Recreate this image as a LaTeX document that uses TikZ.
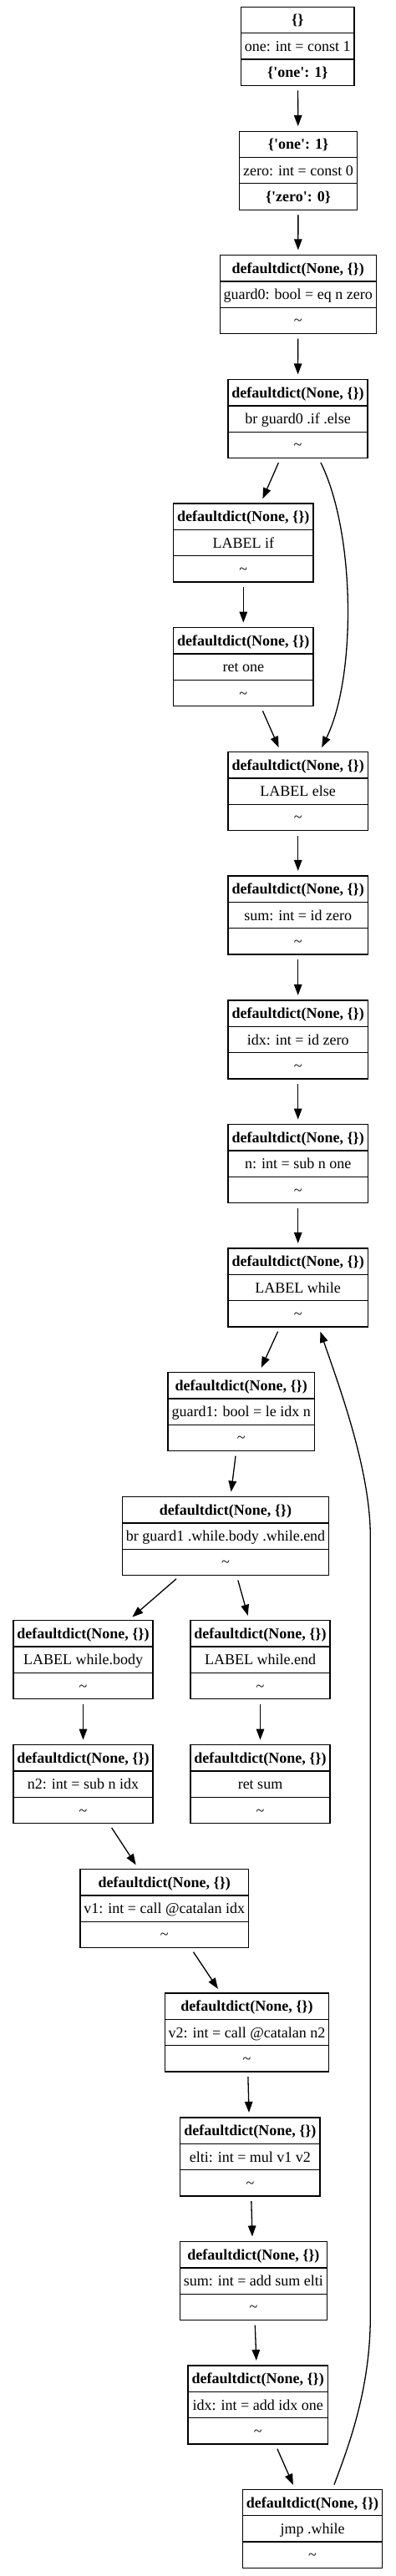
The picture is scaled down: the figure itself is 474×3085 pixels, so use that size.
\documentclass[tikz,border=0pt]{standalone}
\usepackage{fontspec}
\setmainfont{Liberation Serif}
\usetikzlibrary{arrows.meta, shapes.multipart}
\newcommand{\rs}{\rule[-7bp]{0pt}{26bp}}
\newcommand{\hd}{\rs\textbf{defaultdict(None, \{\})}}
\tikzset{
  every picture/.style={line width=1.3bp},
  blk/.style={rectangle split, rectangle split parts=3, draw, inner xsep=4.5bp, inner ysep=2bp, font=\fontsize{18bp}{21bp}\selectfont},
  arrow/.style={-{Triangle[length=13bp, width=9.5bp]}, shorten <=5.5bp, shorten >=5.5bp},
}
\begin{document}
\begin{tikzpicture}[x=1bp, y=-1bp]
  \useasboundingbox (0,0) rectangle (474,3085);
  \node[blk] (c0) at (356.3,55.3) {\rs\textbf{\{\}}\nodepart{two}\rs one: int = const 1\nodepart{three}\rs\textbf{\{\textquotesingle one\textquotesingle: 1\}}};
  \node[blk] (c1) at (357,204.2) {\rs\textbf{\{\textquotesingle one\textquotesingle: 1\}}\nodepart{two}\rs zero: int = const 0\nodepart{three}\rs\textbf{\{\textquotesingle zero\textquotesingle: 0\}}};
  \node[blk] (g0) at (356.7,352.5) {\hd\nodepart{two}\rs guard0: bool = eq n zero\nodepart{three}\rs\textasciitilde};
  \node[blk] (br0) at (356.5,501.5) {\hd\nodepart{two}\rs br guard0 .if .else\nodepart{three}\rs\textasciitilde};
  \node[blk] (lif) at (291.3,650) {\hd\nodepart{two}\rs LABEL if\nodepart{three}\rs\textasciitilde};
  \node[blk] (rone) at (291.3,798.7) {\hd\nodepart{two}\rs ret one\nodepart{three}\rs\textasciitilde};
  \node[blk] (lelse) at (356.7,947.6) {\hd\nodepart{two}\rs LABEL else\nodepart{three}\rs\textasciitilde};
  \node[blk] (sum0) at (356.7,1096) {\hd\nodepart{two}\rs sum: int = id zero\nodepart{three}\rs\textasciitilde};
  \node[blk] (idx0) at (356.7,1245) {\hd\nodepart{two}\rs idx: int = id zero\nodepart{three}\rs\textasciitilde};
  \node[blk] (nsub) at (356.7,1393.7) {\hd\nodepart{two}\rs n: int = sub n one\nodepart{three}\rs\textasciitilde};
  \node[blk] (lwhile) at (356.7,1542) {\hd\nodepart{two}\rs LABEL while\nodepart{three}\rs\textasciitilde};
  \node[blk] (g1) at (288.7,1690.5) {\hd\nodepart{two}\rs guard1: bool = le idx n\nodepart{three}\rs\textasciitilde};
  \node[blk] (br1) at (270,1839.6) {\hd\nodepart{two}\rs br guard1 .while.body .while.end\nodepart{three}\rs\textasciitilde};
  \node[blk] (lbody) at (99.5,1987.7) {\hd\nodepart{two}\rs LABEL while.body\nodepart{three}\rs\textasciitilde};
  \node[blk] (lend) at (311.5,1987.7) {\hd\nodepart{two}\rs LABEL while.end\nodepart{three}\rs\textasciitilde};
  \node[blk] (n2) at (99.5,2136.7) {\hd\nodepart{two}\rs n2: int = sub n idx\nodepart{three}\rs\textasciitilde};
  \node[blk] (rsum) at (311.5,2136.7) {\hd\nodepart{two}\rs ret sum\nodepart{three}\rs\textasciitilde};
  \node[blk] (v1) at (196.8,2285.5) {\hd\nodepart{two}\rs v1: int = call @catalan idx\nodepart{three}\rs\textasciitilde};
  \node[blk] (v2) at (295.5,2434) {\hd\nodepart{two}\rs v2: int = call @catalan n2\nodepart{three}\rs\textasciitilde};
  \node[blk] (elti) at (299.4,2583) {\hd\nodepart{two}\rs elti: int = mul v1 v2\nodepart{three}\rs\textasciitilde};
  \node[blk] (sumadd) at (303.4,2731.5) {\hd\nodepart{two}\rs sum: int = add sum elti\nodepart{three}\rs\textasciitilde};
  \node[blk] (idxadd) at (308.7,2880) {\hd\nodepart{two}\rs idx: int = add idx one\nodepart{three}\rs\textasciitilde};
  \node[blk] (jmp) at (374,3028.4) {\hd\nodepart{two}\rs jmp .while\nodepart{three}\rs\textasciitilde};
  \foreach \a/\b in {c0/c1, c1/g0, g0/br0, br0/lif, lif/rone, rone/lelse, lelse/sum0, sum0/idx0, idx0/nsub, nsub/lwhile, lwhile/g1, g1/br1, br1/lbody, br1/lend, lbody/n2, lend/rsum, n2/v1, v1/v2, v2/elti, elti/sumadd, sumadd/idxadd, idxadd/jmp} \draw[arrow] (\a) -- (\b);
  % else branch skips the if block
  \draw[arrow] ([xshift=25bp]br0.south) .. controls +(44,89) and +(44,-89) .. ([xshift=26bp]lelse.north);
  % loop back edge
  \coordinate (bk1) at (443.3,2774);
  \coordinate (bk2) at (443.3,1840);
  \draw[arrow] ([xshift=24bp]jmp.north) .. controls +(20,-53) and +(0,86) .. (bk1) -- (bk2) .. controls +(0,-80) and +(24,70) .. ([xshift=25bp]lwhile.south);
\end{tikzpicture}
\end{document}
